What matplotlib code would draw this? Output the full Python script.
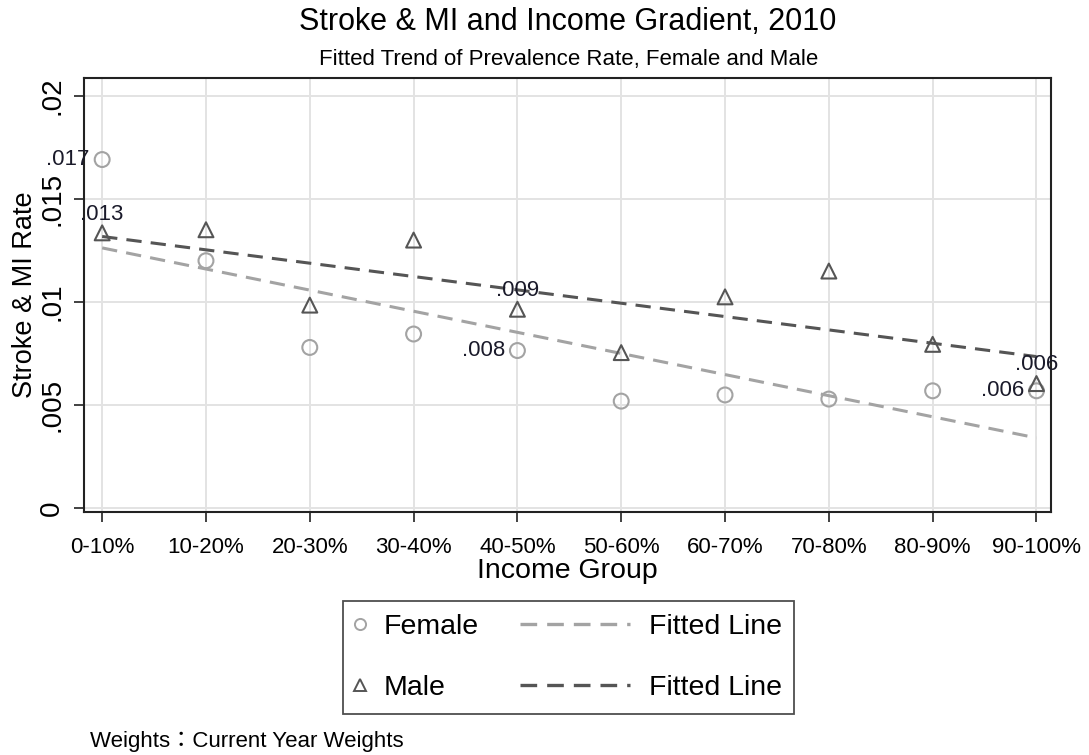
import numpy as np
import matplotlib
matplotlib.use("Agg")
import matplotlib.pyplot as plt
from matplotlib.lines import Line2D
from matplotlib.legend_handler import HandlerLine2D

plt.rcParams['font.family'] = ['Liberation Sans', 'Noto Sans CJK TC', 'DejaVu Sans']

groups = ['0-10%', '10-20%', '20-30%', '30-40%', '40-50%',
          '50-60%', '60-70%', '70-80%', '80-90%', '90-100%']
female = [0.0169, 0.0120, 0.0078, 0.00845, 0.00765, 0.0052, 0.0055, 0.0053, 0.0057, 0.0057]
male = [0.01335, 0.0135, 0.00985, 0.0130, 0.00965, 0.00755, 0.01025, 0.0115, 0.00795, 0.00605]
yticks = [0, 0.005, 0.01, 0.015, 0.02]
yticklabels = ['0', '.005', '.01', '.015', '.02']
female_labels = {0: '.017', 4: '.008', 9: '.006'}
male_labels = {0: '.013', 4: '.009', 9: '.006'}

fig = plt.figure(figsize=(10.89, 7.55), dpi=100)
ax = fig.add_axes([84/1089, 1-512/755, (1051-84)/1089, (512-78)/755])

x = np.arange(len(groups))
fc = '#a3a3a3'
mc = '#555555'
dash = (0, (5, 3))

ax.set_axisbelow(True)
ax.grid(True, color='#e3e3e3', linewidth=1.4)

# fitted lines (linear regression of each series on income group)
bf = np.polyfit(x, female, 1)
bm = np.polyfit(x, male, 1)
ax.plot(x, np.polyval(bf, x), color=fc, linestyle=dash, linewidth=2.2, zorder=2)
ax.plot(x, np.polyval(bm, x), color=mc, linestyle=dash, linewidth=2.2, zorder=2)

ax.scatter(x, female, marker='o', s=115, facecolors='none', edgecolors=fc, linewidths=1.5, zorder=3)
ax.scatter(x, male, marker='^', s=115, facecolors='none', edgecolors=mc, linewidths=1.5, zorder=3)

for i, t in female_labels.items():
    ax.annotate(t, (x[i], female[i]), xytext=(-9, 0), textcoords='offset points',
                ha='right', va='center', fontsize=16, color='#1a1a2a')
for i, t in male_labels.items():
    ax.annotate(t, (x[i], male[i]), xytext=(0, 13.5), textcoords='offset points',
                ha='center', va='center', fontsize=16, color='#1a1a2a')

ax.set_xlim(-0.175, 9.14)
ax.set_ylim(-0.00017, 0.02085)
ax.set_xticks(x)
ax.set_xticklabels(groups, fontsize=16)
ax.set_yticks(yticks)
ax.set_yticklabels(yticklabels, fontsize=20, rotation=90, va='center')
ax.tick_params(axis='both', direction='out', length=7.5, width=1.3, color='#333333')
ax.tick_params(axis='x', pad=10.5)
ax.tick_params(axis='y', pad=6)
for s in ax.spines.values():
    s.set_color('#222222')
    s.set_linewidth(1.5)

ax.set_xlabel('Income Group', fontsize=20.5, labelpad=0)
ax.set_ylabel('Stroke & MI Rate', fontsize=19.5, labelpad=1)

fig.text(0.5 + 23/1089, 1-22/755, 'Stroke & MI and Income Gradient, 2010', ha='center', va='center', fontsize=22)
fig.text(0.5 + 24/1089, 1-60/755, 'Fitted Trend of Prevalence Rate, Female and Male', ha='center', va='center', fontsize=16)


class LongLineHandler(HandlerLine2D):
    """Draw the legend line extending left of its handle box."""
    def __init__(self, extra, **kw):
        super().__init__(**kw)
        self.extra = extra

    def create_artists(self, legend, orig_handle, xdescent, ydescent, width, height, fontsize, trans):
        arts = super().create_artists(legend, orig_handle, xdescent, ydescent, width, height, fontsize, trans)
        for a in arts:
            xd = np.asarray(a.get_xdata())
            yd = np.asarray(a.get_ydata())
            if len(xd) >= 2:
                y0 = float(yd[0])
                a.set_data([-xdescent - self.extra, width - xdescent], [y0, y0])
        return arts


h_f = Line2D([], [], marker='o', linestyle='none', markerfacecolor='none', markeredgecolor=fc, markersize=8, markeredgewidth=1.4)
h_m = Line2D([], [], marker='^', linestyle='none', markerfacecolor='none', markeredgecolor=mc, markersize=8, markeredgewidth=1.4)
h_lf = Line2D([], [], color=fc, linestyle=dash, linewidth=2.4)
h_lm = Line2D([], [], color=mc, linestyle=dash, linewidth=2.4)
handles = [h_f, h_m, h_lf, h_lm]
labels = ['Female', 'Male', 'Fitted Line', 'Fitted Line']
hm = {h_lf: LongLineHandler(extra=72), h_lm: LongLineHandler(extra=72)}
leg = fig.legend(handles, labels, ncol=2, loc='center', bbox_to_anchor=(568.5/1089, 1-657.5/755),
                 fontsize=20.5, frameon=True, fancybox=False, edgecolor='#222222',
                 handlelength=0.35, handletextpad=0.65, columnspacing=4.95, labelspacing=1.25,
                 borderpad=0.45, borderaxespad=0, handler_map=hm)
leg.get_frame().set_linewidth(1.3)

fig.text(90/1089, 1-741/755, 'Weights：Current Year Weights', ha='left', va='center', fontsize=16)

fig.savefig('out.png', dpi=100, facecolor='white')
